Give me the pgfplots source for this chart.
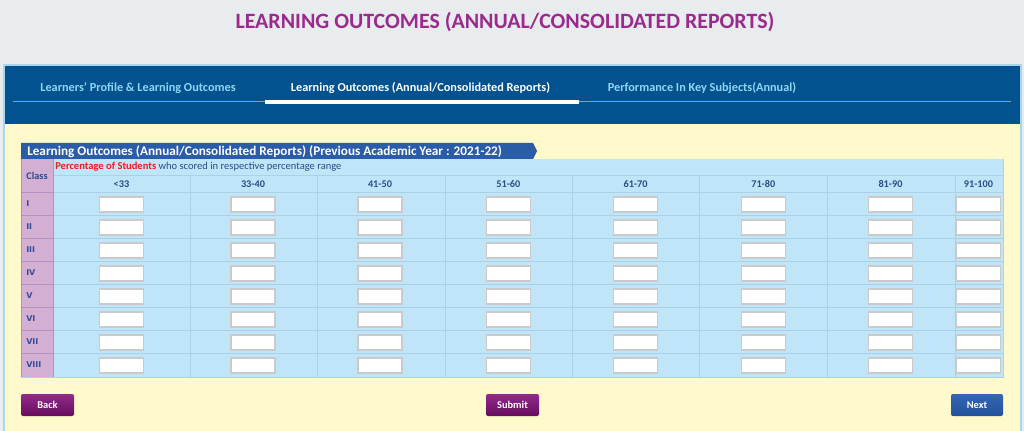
\documentclass[border=0pt]{standalone}
\usepackage{pgfplots}
\pgfplotsset{compat=1.18}
\usepackage{fontspec}
\setmainfont{Carlito}
\newfontfamily\rowfont{DejaVu Sans}
\definecolor{pagebg}{HTML}{E8ECEF}
\definecolor{titlepurple}{HTML}{9B2A8C}
\definecolor{band}{HTML}{02528F}
\definecolor{tablight}{HTML}{8FD6F6}
\definecolor{tabline}{HTML}{8A9DAE}
\definecolor{panelyellow}{HTML}{FFF9CC}
\definecolor{panelborder}{HTML}{A6D7EE}
\definecolor{ribbon}{HTML}{2A5CA8}
\definecolor{tblue}{HTML}{C1E5F8}
\definecolor{tgrid}{HTML}{AAD1E8}
\definecolor{classbg}{HTML}{D4AFD4}
\definecolor{classline}{HTML}{B98CC4}
\definecolor{rowtext}{HTML}{2F4E9E}
\definecolor{headtext}{HTML}{2B4A8C}
\definecolor{redtext}{HTML}{F41A1A}
\definecolor{btntop}{HTML}{932A8B}
\definecolor{btnbot}{HTML}{650C5E}
\definecolor{nexttop}{HTML}{3466B2}
\definecolor{nextbot}{HTML}{22519C}
\definecolor{boxedge}{HTML}{CACACA}
\pgfdeclareplotmark{inbox}{%
  \pgfsetcornersarced{\pgfpoint{2.4pt}{2.4pt}}%
  \pgfpathrectangle{\pgfpoint{-16.5pt}{-5.6pt}}{\pgfpoint{33pt}{11.2pt}}%
  \pgfusepathqfillstroke}
\begin{document}
\begin{tikzpicture}
\begin{axis}[
  x=0.75pt, y=0.75pt, y dir=reverse,
  xmin=0, xmax=1024, ymin=0, ymax=431,
  axis lines=none, clip=true,
]
% page background
\fill[pagebg] (axis cs:0,0) rectangle (axis cs:1024,431);
% title
\node[titlepurple, font=\bfseries\fontsize{16.4}{20}\selectfont, inner sep=0pt] at (axis cs:505,22) {LEARNING OUTCOMES (ANNUAL/CONSOLIDATED REPORTS)};
% panel
\fill[panelborder] (axis cs:3,64) rectangle (axis cs:1022,431);
\fill[panelyellow] (axis cs:5,124) rectangle (axis cs:1020,431);
\fill[band] (axis cs:5,66) rectangle (axis cs:1020,124);
% tabs
\draw[tabline, line width=0.9pt] (axis cs:13,101.5) -- (axis cs:1011,101.5);
\fill[white] (axis cs:265,100) rectangle (axis cs:579,104);
\node[tablight, font=\bfseries\fontsize{9.2}{11}\selectfont, inner sep=0pt] at (axis cs:138,88) {Learners' Profile \& Learning Outcomes};
\node[white, font=\bfseries\fontsize{9.2}{11}\selectfont, inner sep=0pt] at (axis cs:420.5,88) {Learning Outcomes (Annual/Consolidated Reports)};
\node[tablight, font=\bfseries\fontsize{9.2}{11}\selectfont, inner sep=0pt] at (axis cs:702,88) {Performance In Key Subjects(Annual)};
% ribbon
\fill[ribbon] (axis cs:21,143) -- (axis cs:533,143) -- (axis cs:537,151) -- (axis cs:533,159) -- (axis cs:21,159) -- cycle;
\node[white, anchor=west, font=\bfseries\fontsize{9.9}{12}\selectfont, inner sep=0pt] at (axis cs:27,151.5) {Learning Outcomes (Annual/Consolidated Reports) (Previous Academic Year : 2021-22)};
% table
\fill[tblue] (axis cs:21,159) rectangle (axis cs:1003,377);
\fill[classbg] (axis cs:21,159) rectangle (axis cs:53,377);
\draw[tgrid, line width=0.6pt] (axis cs:53,175.5) -- (axis cs:1003,175.5);
\foreach \yy in {192,215,238,261,284,307,330,353} {
  \edef\temp{\noexpand\draw[tgrid, line width=0.6pt] (axis cs:53,\yy) -- (axis cs:1003,\yy);
  \noexpand\draw[classline, line width=0.6pt] (axis cs:21,\yy) -- (axis cs:53,\yy);}
  \temp
}
\foreach \xx in {190,317,445,572,699,827,955} {
  \edef\temp{\noexpand\draw[tgrid, line width=0.6pt] (axis cs:\xx,175.5) -- (axis cs:\xx,377);}
  \temp
}
\draw[classline, line width=0.6pt] (axis cs:53,159) -- (axis cs:53,377);
\draw[classline, line width=0.6pt] (axis cs:21,159) -- (axis cs:21,377);
\draw[tgrid, line width=0.6pt] (axis cs:21,377) -- (axis cs:1003,377) -- (axis cs:1003,159);
% header texts
\node[headtext, font=\bfseries\fontsize{7.7}{9}\selectfont, inner sep=0pt] at (axis cs:37,175.5) {Class};
\node[anchor=west, font=\fontsize{7.9}{9}\selectfont, inner sep=0pt, text=headtext] at (axis cs:55,167) {\textcolor{redtext}{\bfseries Percentage of Students} who scored in respective percentage range};
\foreach \xx/\lab in {121.5/<33, 253/33-40, 380/41-50, 508.4/51-60, 635.6/61-70, 763.3/71-80, 890.5/81-90, 978.5/91-100} {
  \edef\temp{\noexpand\node[headtext, font=\noexpand\bfseries\noexpand\fontsize{7.7}{9}\noexpand\selectfont, inner sep=0pt] at (axis cs:\xx,184) {\lab};}
  \temp
}
\foreach \yy/\lab in {203.5/I, 226.5/II, 249.5/III, 272.5/IV, 295.5/V, 318.5/VI, 341.5/VII, 364.5/VIII} {
  \edef\temp{\noexpand\node[rowtext, anchor=west, font=\noexpand\rowfont\noexpand\bfseries\noexpand\fontsize{6}{8}\noexpand\selectfont, inner sep=0pt] at (axis cs:26,\yy) {\lab};}
  \temp
}
% input boxes
\addplot[only marks, mark=inbox, mark options={draw=boxedge, fill=white, line width=1.2pt}] table {
x y
121.5 204.5
253 204.5
380 204.5
508.4 204.5
635.6 204.5
763.3 204.5
890.5 204.5
978.5 204.5
121.5 227.5
253 227.5
380 227.5
508.4 227.5
635.6 227.5
763.3 227.5
890.5 227.5
978.5 227.5
121.5 250.5
253 250.5
380 250.5
508.4 250.5
635.6 250.5
763.3 250.5
890.5 250.5
978.5 250.5
121.5 273.5
253 273.5
380 273.5
508.4 273.5
635.6 273.5
763.3 273.5
890.5 273.5
978.5 273.5
121.5 296.5
253 296.5
380 296.5
508.4 296.5
635.6 296.5
763.3 296.5
890.5 296.5
978.5 296.5
121.5 319.5
253 319.5
380 319.5
508.4 319.5
635.6 319.5
763.3 319.5
890.5 319.5
978.5 319.5
121.5 342.5
253 342.5
380 342.5
508.4 342.5
635.6 342.5
763.3 342.5
890.5 342.5
978.5 342.5
121.5 365.5
253 365.5
380 365.5
508.4 365.5
635.6 365.5
763.3 365.5
890.5 365.5
978.5 365.5
};
% buttons
\shade[top color=btntop, bottom color=btnbot, rounded corners=1.5pt] (axis cs:21,394) rectangle (axis cs:74,416);
\shade[top color=btntop, bottom color=btnbot, rounded corners=1.5pt] (axis cs:486,394) rectangle (axis cs:539,416);
\shade[top color=nexttop, bottom color=nextbot, rounded corners=1.5pt] (axis cs:951,394) rectangle (axis cs:1003,416);
\node[white, font=\bfseries\fontsize{7.8}{9}\selectfont, inner sep=0pt] at (axis cs:47.5,405) {Back};
\node[white, font=\bfseries\fontsize{7.8}{9}\selectfont, inner sep=0pt] at (axis cs:512.5,405) {Submit};
\node[white, font=\bfseries\fontsize{7.8}{9}\selectfont, inner sep=0pt] at (axis cs:977,405) {Next};
\end{axis}
\end{tikzpicture}
\end{document}
